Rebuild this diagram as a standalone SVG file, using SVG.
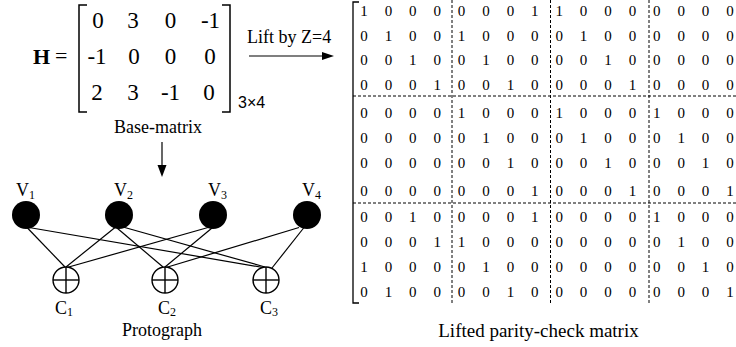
<svg xmlns="http://www.w3.org/2000/svg" width="736" height="347" viewBox="0 0 736 347" font-family="Liberation Serif, Times New Roman, DejaVu Serif, serif">
<style>
  text, tspan { font-family: 'Liberation Serif', 'Times New Roman', 'DejaVu Serif', serif; fill: #000; }
  .lbl { font-size: 18px; }
  .sub { font-size: 12px; }
  .bm { font-size: 23px; text-anchor: middle; }
  .lm { font-size: 15px; text-anchor: middle; }
  .brk { fill: none; stroke: #000; stroke-width: 1.5; }
  .dash { stroke: #000; stroke-width: 1; stroke-dasharray: 3 2; fill: none; }
  .edge { stroke: #000; stroke-width: 1.2; fill: none; }
  .vnode { fill: #000; }
  .cnode { fill: #fff; stroke: #000; stroke-width: 1.4; }
  .cross { stroke: #000; stroke-width: 1.4; }
  .arr { stroke: #000; stroke-width: 1.2; fill: none; }
</style>

<g id="base-matrix">
  <text x="33" y="64" style="font-size:22px;font-weight:bold">H</text>
  <text x="55" y="63" style="font-size:22px">=</text>
  <path class="brk" d="M87,5 H79 V112 H87"/>
  <path class="brk" d="M222,5 H230 V112 H222"/>
  <text class="bm" x="98" y="28">0</text>
  <text class="bm" x="133" y="28">3</text>
  <text class="bm" x="170.5" y="28">0</text>
  <text class="bm" x="210.5" y="28">-1</text>
  <text class="bm" x="97" y="64">-1</text>
  <text class="bm" x="134" y="64">0</text>
  <text class="bm" x="170.5" y="64">0</text>
  <text class="bm" x="210" y="64">0</text>
  <text class="bm" x="97" y="100">2</text>
  <text class="bm" x="133" y="100">3</text>
  <text class="bm" x="170.5" y="100">-1</text>
  <text class="bm" x="209" y="100">0</text>
  <text x="238" y="108" style="font-size:16px;font-family:'Liberation Sans', Arial, sans-serif">3×4</text>
  <text class="lbl" x="158" y="133" text-anchor="middle">Base-matrix</text>
</g>

<g id="lift-arrow">
  <text class="lbl" x="247" y="43">Lift by Z=4</text>
  <line class="arr" x1="249" y1="56" x2="324" y2="56"/>
  <polygon points="334,56 322,52 322,60" fill="#000"/>
</g>

<g id="down-arrow">
  <line class="arr" x1="162" y1="142" x2="162" y2="167"/>
  <polygon points="162,177 157.5,165 166.5,165" fill="#000"/>
</g>

<g id="connectors">
  <line class="edge" x1="27" y1="227.5" x2="65" y2="267"/>
  <line class="edge" x1="29" y1="227.5" x2="263" y2="267.5"/>
  <line class="edge" x1="115" y1="227.5" x2="66" y2="267"/>
  <line class="edge" x1="117" y1="228" x2="163" y2="267"/>
  <line class="edge" x1="123" y1="227" x2="265" y2="267"/>
  <line class="edge" x1="208" y1="227.5" x2="67" y2="267.5"/>
  <line class="edge" x1="212" y1="228" x2="165" y2="267"/>
  <line class="edge" x1="299" y1="227.5" x2="166" y2="267.5"/>
  <line class="edge" x1="304" y1="227.5" x2="272" y2="268"/>
</g>

<g id="v1">
  <circle class="vnode" cx="26" cy="215" r="14"/>
  <text class="lbl" x="16" y="196">V<tspan class="sub" dy="3">1</tspan></text>
</g>
<g id="v2">
  <circle class="vnode" cx="119" cy="215" r="14"/>
  <text class="lbl" x="114" y="196">V<tspan class="sub" dy="3">2</tspan></text>
</g>
<g id="v3">
  <circle class="vnode" cx="213" cy="215" r="14"/>
  <text class="lbl" x="208" y="196">V<tspan class="sub" dy="3">3</tspan></text>
</g>
<g id="v4">
  <circle class="vnode" cx="307" cy="215" r="14"/>
  <text class="lbl" x="302" y="196">V<tspan class="sub" dy="3">4</tspan></text>
</g>

<g id="c1">
  <circle class="cnode" cx="66" cy="280" r="13"/>
  <line class="cross" x1="53" y1="280" x2="79" y2="280"/>
  <line class="cross" x1="66" y1="267" x2="66" y2="293"/>
  <text class="lbl" x="55" y="314">C<tspan class="sub" dy="2">1</tspan></text>
</g>
<g id="c2">
  <circle class="cnode" cx="165" cy="280" r="13"/>
  <line class="cross" x1="152" y1="280" x2="178" y2="280"/>
  <line class="cross" x1="165" y1="267" x2="165" y2="293"/>
  <text class="lbl" x="158" y="314">C<tspan class="sub" dy="2">2</tspan></text>
</g>
<g id="c3">
  <circle class="cnode" cx="266" cy="280" r="13"/>
  <line class="cross" x1="253" y1="280" x2="279" y2="280"/>
  <line class="cross" x1="266" y1="267" x2="266" y2="293"/>
  <text class="lbl" x="260" y="314">C<tspan class="sub" dy="2">3</tspan></text>
</g>

<text class="lbl" x="162" y="336" text-anchor="middle">Protograph</text>

<g id="lifted-matrix">
  <path class="brk" d="M359,2 H353 V303 H359" style="stroke-width:1.3"/>
  <line class="dash" x1="452" y1="0" x2="452" y2="303"/>
  <line class="dash" x1="550.5" y1="0" x2="550.5" y2="303"/>
  <line class="dash" x1="649" y1="0" x2="649" y2="303"/>
  <line class="dash" x1="353" y1="96" x2="736" y2="96"/>
  <line class="dash" x1="353" y1="203" x2="736" y2="203"/>
  <text class="lm" x="364 388.4 412.8 437.2 461.6 486 510.4 534.8 559.2 583.6 608 632.4 656.8 681.2 705.6 730" y="16">1000000110000000</text>
  <text class="lm" x="364 388.4 412.8 437.2 461.6 486 510.4 534.8 559.2 583.6 608 632.4 656.8 681.2 705.6 730" y="40.5">0100100001000000</text>
  <text class="lm" x="364 388.4 412.8 437.2 461.6 486 510.4 534.8 559.2 583.6 608 632.4 656.8 681.2 705.6 730" y="65">0010010000100000</text>
  <text class="lm" x="364 388.4 412.8 437.2 461.6 486 510.4 534.8 559.2 583.6 608 632.4 656.8 681.2 705.6 730" y="89.5">0001001000010000</text>
  <text class="lm" x="364 388.4 412.8 437.2 461.6 486 510.4 534.8 559.2 583.6 608 632.4 656.8 681.2 705.6 730" y="118">0000100010001000</text>
  <text class="lm" x="364 388.4 412.8 437.2 461.6 486 510.4 534.8 559.2 583.6 608 632.4 656.8 681.2 705.6 730" y="143">0000010001000100</text>
  <text class="lm" x="364 388.4 412.8 437.2 461.6 486 510.4 534.8 559.2 583.6 608 632.4 656.8 681.2 705.6 730" y="168">0000001000100010</text>
  <text class="lm" x="364 388.4 412.8 437.2 461.6 486 510.4 534.8 559.2 583.6 608 632.4 656.8 681.2 705.6 730" y="196">0000000100010001</text>
  <text class="lm" x="364 388.4 412.8 437.2 461.6 486 510.4 534.8 559.2 583.6 608 632.4 656.8 681.2 705.6 730" y="222">0010000100001000</text>
  <text class="lm" x="364 388.4 412.8 437.2 461.6 486 510.4 534.8 559.2 583.6 608 632.4 656.8 681.2 705.6 730" y="247">0001100000000100</text>
  <text class="lm" x="364 388.4 412.8 437.2 461.6 486 510.4 534.8 559.2 583.6 608 632.4 656.8 681.2 705.6 730" y="272">1000010000000010</text>
  <text class="lm" x="364 388.4 412.8 437.2 461.6 486 510.4 534.8 559.2 583.6 608 632.4 656.8 681.2 705.6 730" y="297">0100001000000001</text>
  <text x="538.5" y="337" text-anchor="middle" style="font-size:19px">Lifted parity-check matrix</text>
</g>
</svg>
